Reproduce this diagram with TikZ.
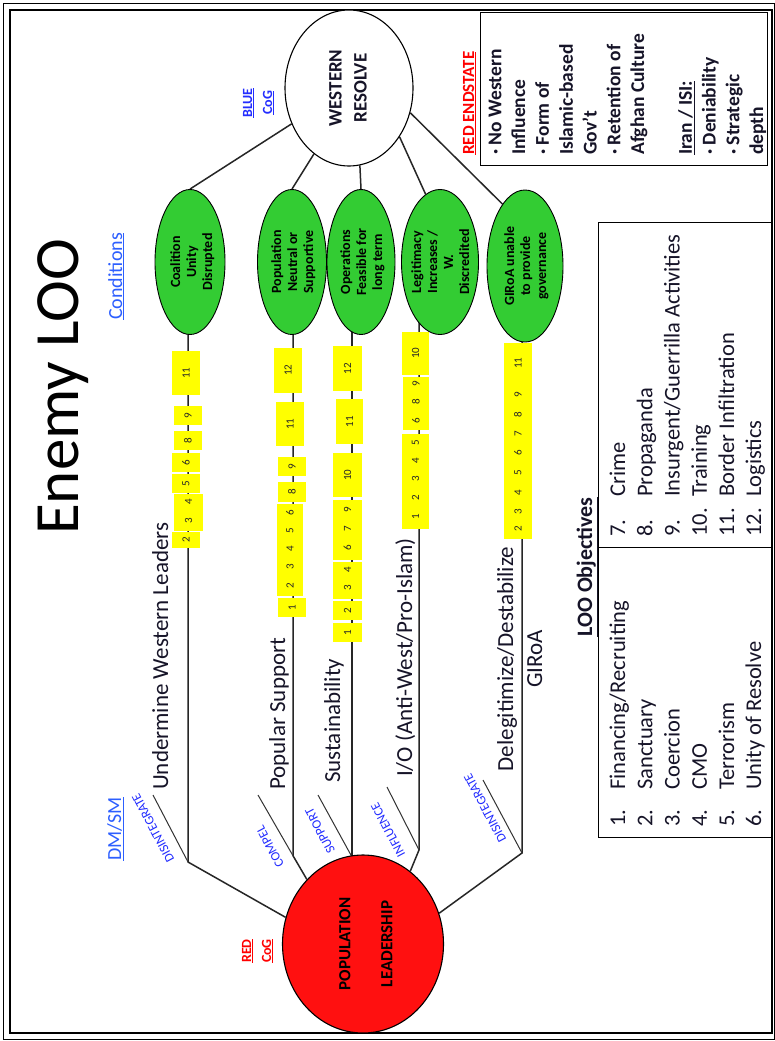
\documentclass[tikz,border=0pt]{standalone}
\usepackage{fontspec}
\usepackage{graphicx}
\setmainfont{Carlito}
\usetikzlibrary{shapes.geometric,fit}
\pgfdeclarelayer{bg}
\pgfsetlayers{bg,main}
\definecolor{cgreen}{RGB}{51,204,51}
\definecolor{cred}{RGB}{255,16,16}
\definecolor{cyel}{RGB}{255,255,0}
\definecolor{cblue}{RGB}{35,45,255}
\definecolor{clblue}{RGB}{45,95,255}
\definecolor{ctext}{RGB}{22,20,40}
\newcommand{\fsz}[2]{\fontsize{#1pt}{#2pt}\selectfont}
\newcommand{\rtext}[1]{\rotatebox{90}{\begin{tabular}{@{}c@{}}#1\end{tabular}}}
\newcommand{\ltext}[1]{\rotatebox{90}{\begin{tabular}{@{}l@{}}#1\end{tabular}}}
\newcounter{nn}
\newcounter{yb}
\newcommand{\nm}[3]{\stepcounter{nn}\node[num] (n\arabic{nn}) at (#1,#2) {#3};}
\newcommand{\yb}[4]{\stepcounter{yb}\node[ybox, fit={(#1,#2) (#3,#4)}] (yb\arabic{yb}) {};}
\begin{document}
\begin{tikzpicture}[x=1pt,y=-1pt,
  conn/.style={line width=1.5pt, draw=black!85},
  tickline/.style={line width=1pt, draw=black!80},
  cond/.style={ellipse, draw=black, line width=0.9pt, fill=cgreen, inner sep=0pt},
  condtext/.style={inner sep=0pt, font=\bfseries\fsz{14}{16}},
  ybox/.style={fill=cyel, inner sep=0pt, draw=none},
  num/.style={rotate=90, inner sep=0pt, font=\fsz{11}{13}, text=black!85},
  loolab/.style={rotate=90, inner sep=0pt, anchor=base west, font=\fsz{23}{29}, text=ctext},
  verb/.style={rotate=118, inner sep=0pt, text=cblue, font=\fsz{13}{15}},
  box/.style={draw=black, line width=1pt, inner sep=0pt},
]
\useasboundingbox (0,0) rectangle (775,1041);
\begin{pgfonlayer}{bg}
\fill[white] (0,0) rectangle (775,1041);
\end{pgfonlayer}
% frame
\draw[line width=1pt] (3.5,3.5) rectangle (774.5,1039);
\draw[line width=2pt] (10,10.5) rectangle (771.5,1033);

% title and headings
\node[rotate=90, anchor=base west, inner sep=0, font=\fsz{63}{70}, text=black] (title) at (78,535) {Enemy LOO};
\node[rotate=90, anchor=base west, inner sep=0, text=clblue, font=\fsz{20}{24}] (condlab) at (122,320) {\underline{Conditions}};
\node[rotate=90, anchor=base west, inner sep=0, text=clblue, font=\fsz{20}{24}] (dmsm) at (121,861) {\underline{DM/SM}};
\node[inner sep=0, text=cblue, font=\bfseries\fsz{14}{20}] (bluecog) at (258,103) {\rtext{\underline{BLUE}\\\underline{CoG}}};
\node[inner sep=0, text=red, font=\bfseries\fsz{14}{20}] (redcog) at (257,951) {\rtext{\underline{RED}\\\underline{CoG}}};
\node[rotate=90, anchor=base west, inner sep=0, text=red, font=\bfseries\fsz{17}{20}] (redend) at (474,155) {\underline{RED ENDSTATE}};

% ellipses
\node[ellipse, draw=black, line width=1.1pt, fill=white, inner sep=0pt, minimum width=128pt, minimum height=156pt, font=\bfseries\fsz{19}{25}, text=ctext] (W) at (349,88) {\rtext{WESTERN\\RESOLVE}};
\node[cond, minimum width=70pt, minimum height=145pt] (E1) at (190,262) {};
\node[cond, minimum width=69pt, minimum height=145pt] (E2) at (292,262) {};
\node[cond, minimum width=68pt, minimum height=145pt] (E3) at (361,262) {};
\node[cond, minimum width=77pt, minimum height=145pt] (E4) at (440,262) {};
\node[cond, minimum width=76pt, minimum height=152pt] (E5) at (525,266) {};
\node[condtext] (E1t) at (193,262) {\rtext{Coalition\\Unity\\Disrupted}};
\node[condtext] (E2t) at (294,262) {\rtext{Population\\Neutral or\\Supportive}};
\node[condtext] (E3t) at (363,262) {\rtext{Operations\\Feasible for\\long term}};
\node[condtext] (E4t) at (442,262) {\rtext{Legitimacy\\Increases /\\W.\\Discredited}};
\node[condtext] (E5t) at (527,266) {\rtext{GIRoA unable\\to provide\\governance}};
\node[ellipse, draw=black, line width=1.1pt, fill=cred, inner sep=0pt, minimum width=161pt, minimum height=178pt, font=\bfseries\fsz{17}{42}, text=black] (R) at (363,944) {\rtext{POPULATION\\LEADERSHIP}};

% joints
\coordinate (J1) at (188,862);
\coordinate (J2) at (293,855.7);
\coordinate (J3) at (352,857);
\coordinate (J4) at (419,850);
\coordinate (J5) at (522,853);
\coordinate (T1) at (153,795);
\coordinate (T2) at (258,795);
\coordinate (T3) at (318,795);
\coordinate (T4) at (387,787);
\coordinate (T5) at (483,780);

\begin{pgfonlayer}{bg}
\draw[conn] (W.212) -- (E1.north);
\draw[conn] (W.242) -- (E2.north);
\draw[conn] (W.278) -- (E3.north);
\draw[conn] (W.316) -- (E4.102);
\draw[conn] (W.338) -- (E5.110);
\draw[conn] (E1.center -| J1) -- (J1) -- (R.161);
\draw[conn] (E2.center -| J2) -- (J2) -- (R.131);
\draw[conn] (E3.center -| J3) -- (J3);
\draw[conn] (E4.center -| J4) -- (J4) -- (R.57);
\draw[conn] (E5.center -| J5) -- (J5) -- (R.22);
\draw[tickline] (T1) -- (J1);
\draw[tickline] (T2) -- (J2);
\draw[tickline] (T3) -- (J3);
\draw[tickline] (T4) -- (J4);
\draw[tickline] (T5) -- (J5);
\end{pgfonlayer}

% verbs
\node[verb] (v1) at (153,828) {DISINTEGRATE};
\node[verb] (v2) at (270,847) {COMPEL};
\node[verb] (v3) at (320,831) {SUPPORT};
\node[verb] (v4) at (388,830) {INFLUENCE};
\node[verb] (v5) at (485,808) {DISINTEGRATE};

% LOO labels
\node[loolab] (lab1) at (168,790) {Undermine Western Leaders};
\node[loolab] (lab2) at (285,790) {Popular Support};
\node[loolab] (lab3) at (340,783) {Sustainability};
\node[loolab] (lab4) at (412,777) {I/O (Anti-West/Pro-Islam)};
\node[inner sep=0, font=\fsz{23}{29}, text=ctext] (lab5) at (521.7,659) {\rtext{Delegitimize/Destabilize\\GIRoA}};

% yellow boxes LOO1
\yb{172}{351}{200}{395}\yb{174}{406}{202}{425}\yb{174}{431}{202}{450}
\yb{172}{453}{200}{472}\yb{172}{474}{200}{493}\yb{174}{494}{203}{531}
\yb{172}{532}{200}{548}
\nm{186}{373}{11}\nm{188}{415.5}{9}\nm{188}{440.5}{8}\nm{186}{462.5}{6}
\nm{186}{483.5}{5}\nm{188.5}{502}{4}\nm{188.5}{521}{3}\nm{186}{539.5}{2}
% LOO2
\yb{274}{348}{302}{393}\yb{276}{402}{304}{446}\yb{278}{457}{306}{476}
\yb{278}{482}{306}{502}\yb{277}{504}{303}{596}\yb{278}{598}{306}{617}
\nm{288}{370}{12}\nm{290}{424}{11}\nm{292}{466.5}{9}\nm{292}{492}{8}
\nm{290}{513}{6}\nm{290}{531}{5}\nm{290}{549}{4}\nm{290}{567}{3}\nm{290}{586}{2}
\nm{292}{607.5}{1}
% LOO3
\yb{333}{346}{362}{391}\yb{336}{399}{363}{444}\yb{333}{453}{362}{497}
\yb{333}{500}{362}{560}\yb{333}{562}{362}{599}\yb{333}{601}{362}{620}
\yb{333}{623}{362}{642}
\nm{347.5}{368.5}{12}\nm{349.5}{421.5}{11}\nm{347.5}{475}{10}
\nm{347.5}{510}{9}\nm{347.5}{529}{7}\nm{347.5}{548}{6}
\nm{347.5}{570}{4}\nm{347.5}{588}{3}\nm{347.5}{610.5}{2}\nm{347.5}{632.5}{1}
% LOO4
\yb{402}{332}{429}{375}\yb{403}{377}{429}{430}\yb{402}{434}{429}{529}
\nm{415.5}{353}{10}\nm{416}{384}{9}\nm{416}{402}{8}\nm{416}{421}{6}
\nm{415.5}{443}{5}\nm{415.5}{461}{4}\nm{415.5}{479}{3}\nm{415.5}{498}{2}\nm{415.5}{517}{1}
% LOO5
\yb{504}{343}{532}{539}
\nm{518}{363}{11}\nm{518}{395}{9}\nm{518}{415}{8}\nm{518}{434}{7}\nm{518}{453}{6}
\nm{518}{473}{5}\nm{518}{493}{4}\nm{518}{512}{3}\nm{518}{529}{2}

% endstate box
\node[box, minimum width=287pt, minimum height=153pt, anchor=north west] (ES) at (480,12) {};
\node[inner sep=0, anchor=south west, font=\bfseries\fsz{19.5}{23.8}, text=ctext] (ESt) at (484.5,155) {\ltext{· No Western\\Influence\\· Form of\\Islamic-based\\Gov’t\\· Retention of\\Afghan Culture\\ \mbox{}\\\underline{Iran / ISI:}\\· Deniability\\· Strategic\\depth}};

% LOO objectives
\node[box, minimum width=173pt, minimum height=325pt, anchor=north west] (LB1) at (598,222) {};
\node[box, minimum width=173pt, minimum height=290pt, anchor=north west] (LB2) at (598,547) {};
\node[rotate=90, anchor=base, inner sep=0, font=\bfseries\fsz{22}{26}, text=ctext] (lootitle) at (592,567) {\underline{LOO Objectives}};
\node[inner sep=0, anchor=south west, font=\fsz{22.5}{27.2}, text=ctext] (list2) at (606,537) {\ltext{\makebox[40pt][l]{7.}Crime\\\makebox[40pt][l]{8.}Propaganda\\\makebox[40pt][l]{9.}Insurgent/Guerrilla Activities\\\makebox[40pt][l]{10.}Training\\\makebox[40pt][l]{11.}Border Infiltration\\\makebox[40pt][l]{12.}Logistics}};
\node[inner sep=0, anchor=south west, font=\fsz{22.5}{27.2}, text=ctext] (list1) at (606,827) {\ltext{\makebox[37pt][l]{1.}Financing/Recruiting\\\makebox[37pt][l]{2.}Sanctuary\\\makebox[37pt][l]{3.}Coercion\\\makebox[37pt][l]{4.}CMO\\\makebox[37pt][l]{5.}Terrorism\\\makebox[37pt][l]{6.}Unity of Resolve}};
\end{tikzpicture}
\end{document}
